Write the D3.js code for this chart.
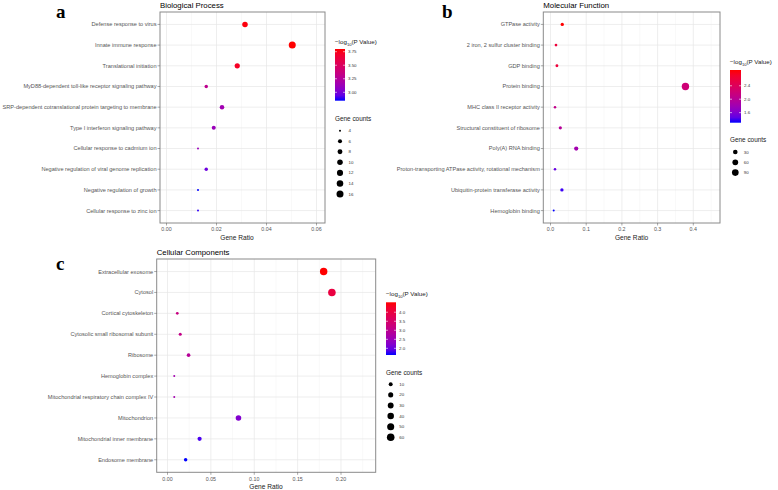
<!DOCTYPE html>
<html><head><meta charset="utf-8">
<script src="https://cdn.jsdelivr.net/npm/d3@7"></script>
<style>body{margin:0;background:#fff} svg{display:block;font-family:"Liberation Sans",Arial,sans-serif}</style>
</head><body>
<svg id="c" width="778" height="490"></svg>
<script>
// ---------- Data ----------
const bpTerms = ["Defense response to virus","Innate immune response","Translational initiation","MyD88-dependent toll-like receptor signaling pathway","SRP-dependent cotranslational protein targeting to membrane","Type I interferon signaling pathway","Cellular response to cadmium ion","Negative regulation of viral genome replication","Negative regulation of growth","Cellular response to zinc ion"];
const bpRatio = [0.0314,0.0503,0.0283,0.0159,0.0222,0.0189,0.0126,0.0159,0.0126,0.0126];
const bpCount = [10,16,9,5,7,6,4,5,4,4];
const bpLogP  = [3.78,3.80,3.72,3.30,3.15,3.12,3.12,2.97,2.845,2.87];
const bpXTicks = [0,0.02,0.04,0.06];
const bpColorTicks = [3.00,3.25,3.50,3.75];
const bpSizeTicks = [4,6,8,10,12,14,16];

const mfTerms = ["GTPase activity","2 iron, 2 sulfur cluster binding","GDP binding","Protein binding","MHC class II receptor activity","Structural constituent of ribosome","Poly(A) RNA binding","Proton-transporting ATPase activity, rotational mechanism","Ubiquitin-protein transferase activity","Hemoglobin binding"];
const mfRatio = [0.033,0.0154,0.018,0.378,0.0126,0.0275,0.072,0.0126,0.032,0.009];
const mfCount = [10,5,6,120,4,9,23,4,10,3];
const mfLogP  = [2.87,2.62,2.62,2.22,2.08,1.98,1.82,1.48,1.36,1.30];
const mfXTicks = [0,0.1,0.2,0.3,0.4];
const mfColorTicks = [1.6,2.0,2.4];
const mfSizeTicks = [30,60,90];

const ccTerms = ["Extracellular exosome","Cytosol","Cortical cytoskeleton","Cytosolic small ribosomal subunit","Ribosome","Hemoglobin complex","Mitochondrial respiratory chain complex IV","Mitochondrion","Mitochondrial inner membrane","Endosome membrane"];
const ccRatio = [0.180,0.1895,0.0113,0.0147,0.0243,0.0078,0.0078,0.0818,0.037,0.0209];
const ccCount = [57,60,4,5,8,3,3,26,12,7];
const ccLogP  = [4.55,4.00,3.20,3.10,2.90,2.60,2.60,2.20,1.80,1.63];
const ccXTicks = [0,0.05,0.10,0.15,0.20];
const ccColorTicks = [2.0,2.5,3.0,3.5,4.0];
const ccSizeTicks = [10,20,30,40,50,60];

// ---------- Drawing ----------
const svg = d3.select("#c");
const defs = svg.append("defs");

function drawPanel(o, idx){
  const g = svg.append("g");
  const {x0,x1,y0,y1} = o.box;
  const x = d3.scaleLinear().domain([0,o.xRef]).range([o.xZero,o.xRefPx]);
  const y = d3.scalePoint().domain(o.terms).range([y0,y1]).padding(0.6);
  const [cmin,cmax] = d3.extent(o.logp);
  const col = d3.scaleLinear().domain([cmin,cmax]).range(["blue","red"]).interpolate(d3.interpolateLab);
  const [smin,smax] = d3.extent(o.count);
  const rs = v => o.rRange[0] + (o.rRange[1]-o.rRange[0])*Math.sqrt(Math.max(0,(v-smin))/(smax-smin));

  // gridlines
  const xmin = x.invert(x0), xmax = x.invert(x1);
  const step = o.xTicks[1]-o.xTicks[0];
  const minor = [];
  for(let v=o.xTicks[0]-step/2; v<=xmax; v+=step){ if(v>=xmin) minor.push(v); }
  g.selectAll(".mn").data(minor).join("line")
    .attr("x1",d=>x(d)).attr("x2",d=>x(d)).attr("y1",y0).attr("y2",y1)
    .attr("stroke","#f2f2f2").attr("stroke-width",0.5);
  g.selectAll(".mj").data(o.xTicks).join("line")
    .attr("x1",d=>x(d)).attr("x2",d=>x(d)).attr("y1",y0).attr("y2",y1)
    .attr("stroke","#e6e6e6").attr("stroke-width",0.7);
  g.selectAll(".hy").data(o.terms).join("line")
    .attr("x1",x0).attr("x2",x1).attr("y1",d=>y(d)).attr("y2",d=>y(d))
    .attr("stroke","#e6e6e6").attr("stroke-width",0.7);

  // points
  const pts = o.terms.map((t,i)=>({t, r:o.ratio[i], c:o.count[i], p:o.logp[i]}));
  g.selectAll(".pt").data(pts).join("circle")
    .attr("cx",d=>x(d.r)).attr("cy",d=>y(d.t)).attr("r",d=>rs(d.c))
    .attr("fill",d=>col(d.p));

  // border
  g.append("rect").attr("x",x0).attr("y",y0).attr("width",x1-x0).attr("height",y1-y0)
    .attr("fill","none").attr("stroke","#8a8a8a").attr("stroke-width",1);

  // y axis
  g.selectAll(".yt").data(o.terms).join("line")
    .attr("x1",x0-2.5).attr("x2",x0).attr("y1",d=>y(d)).attr("y2",d=>y(d))
    .attr("stroke","#555").attr("stroke-width",0.5);
  g.selectAll(".yl").data(o.terms).join("text")
    .attr("x",x0-3.5).attr("y",d=>y(d)).attr("dy","0.35em")
    .attr("text-anchor","end").attr("font-size",5.6).attr("fill","#555").text(d=>d);

  // x axis
  g.selectAll(".xt").data(o.xTicks).join("line")
    .attr("x1",d=>x(d)).attr("x2",d=>x(d)).attr("y1",y1).attr("y2",y1+2.5)
    .attr("stroke","#555").attr("stroke-width",0.5);
  g.selectAll(".xl").data(o.xTicks).join("text")
    .attr("x",d=>x(d)).attr("y",y1+8.3)
    .attr("text-anchor","middle").attr("font-size",5.3).attr("fill","#555")
    .text(d=>d3.format(o.xFmt)(d));
  g.append("text").attr("x",o.xTitleX).attr("y",y1+17).attr("text-anchor","middle")
    .attr("font-size",6.6).attr("fill","#222").text("Gene Ratio");

  // title
  g.append("text").attr("x",x0).attr("y",y0-4).attr("font-size",7.8).attr("fill","#000")
    .text(o.title);
  // panel letter
  g.append("text").attr("x",o.letter[0]).attr("y",o.letter[1])
    .attr("font-family",'"Liberation Serif","Times New Roman",serif').attr("font-weight","bold")
    .attr("font-size",19).attr("fill","#000").text(o.letterText);

  // color legend
  const L = o.leg;
  const lt = g.append("text").attr("x",L.x).attr("y",L.titleY).attr("font-size",6.2).attr("fill","#222");
  lt.append("tspan").text("\u2212log");
  lt.append("tspan").attr("font-size",4.2).attr("dy",1.5).text("10");
  lt.append("tspan").attr("dy",-1.5).text("(P Value)");
  const gid = "grad"+idx;
  const gr = defs.append("linearGradient").attr("id",gid).attr("x1",0).attr("x2",0).attr("y1",1).attr("y2",0);
  d3.range(0,1.0001,0.1).forEach(t=>{
    gr.append("stop").attr("offset",t).attr("stop-color",col(cmin+t*(cmax-cmin)));
  });
  g.append("rect").attr("x",L.x).attr("y",L.barY0).attr("width",L.barW).attr("height",L.barY1-L.barY0)
    .attr("fill",`url(#${gid})`);
  const cb = d3.scaleLinear().domain([cmin,cmax]).range([L.barY1,L.barY0]);
  o.colorTicks.forEach(v=>{
    const yy = cb(v);
    g.append("line").attr("x1",L.x).attr("x2",L.x+2).attr("y1",yy).attr("y2",yy).attr("stroke","#fff").attr("stroke-width",0.6);
    g.append("line").attr("x1",L.x+L.barW-2).attr("x2",L.x+L.barW).attr("y1",yy).attr("y2",yy).attr("stroke","#fff").attr("stroke-width",0.6);
    g.append("text").attr("x",L.x+L.barW+3).attr("y",yy).attr("dy","0.35em")
      .attr("font-size",4.4).attr("fill","#333").text(d3.format(o.cFmt)(v));
  });
  // size legend
  g.append("text").attr("x",L.x).attr("y",L.sizeTitleY).attr("font-size",6.4).attr("fill","#222").text("Gene counts");
  o.sizeTicks.forEach((v,i)=>{
    const yy = L.sizeY0 + i*L.sizeStep;
    g.append("circle").attr("cx",L.dotX).attr("cy",yy).attr("r",rs(v)).attr("fill","#000");
    g.append("text").attr("x",L.dotX+8.5).attr("y",yy).attr("dy","0.35em")
      .attr("font-size",4.4).attr("fill","#333").text(v);
  });
}

drawPanel({
  terms:bpTerms, ratio:bpRatio, count:bpCount, logp:bpLogP, xTicks:bpXTicks, xFmt:".2f",
  colorTicks:bpColorTicks, cFmt:".2f", sizeTicks:bpSizeTicks,
  box:{x0:160,x1:325,y0:12,y1:223}, xRef:0.06, xZero:166.5, xRefPx:316.5, xTitleX:237,
  rRange:[1.0,3.5], title:"Biological Process", letter:[56,18], letterText:"a",
  leg:{x:335, titleY:44, barY0:49, barY1:100.7, barW:10, sizeTitleY:121, sizeY0:130.7, sizeStep:10.55, dotX:340}
},0);

drawPanel({
  terms:mfTerms, ratio:mfRatio, count:mfCount, logp:mfLogP, xTicks:mfXTicks, xFmt:".1f",
  colorTicks:mfColorTicks, cFmt:".1f", sizeTicks:mfSizeTicks,
  box:{x0:543.3,x1:720,y0:12,y1:223}, xRef:0.4, xZero:550.5, xRefPx:693.3, xTitleX:631.6,
  rRange:[1.0,3.7], title:"Molecular Function", letter:[442,18], letterText:"b",
  leg:{x:730, titleY:64, barY0:70, barY1:122.7, barW:11, sizeTitleY:142, sizeY0:152, sizeStep:10.3, dotX:735.3}
},1);

drawPanel({
  terms:ccTerms, ratio:ccRatio, count:ccCount, logp:ccLogP, xTicks:ccXTicks, xFmt:".2f",
  colorTicks:ccColorTicks, cFmt:".1f", sizeTicks:ccSizeTicks,
  box:{x0:156.7,x1:375.7,y0:259,y1:472.3}, xRef:0.2, xZero:167.5, xRefPx:341, xTitleX:266,
  rRange:[1.0,3.8], title:"Cellular Components", letter:[56,269.5], letterText:"c",
  leg:{x:386, titleY:296, barY0:302.3, barY1:355, barW:10, sizeTitleY:375, sizeY0:384.3, sizeStep:10.6, dotX:390.7}
},2);
</script>
</body></html>
